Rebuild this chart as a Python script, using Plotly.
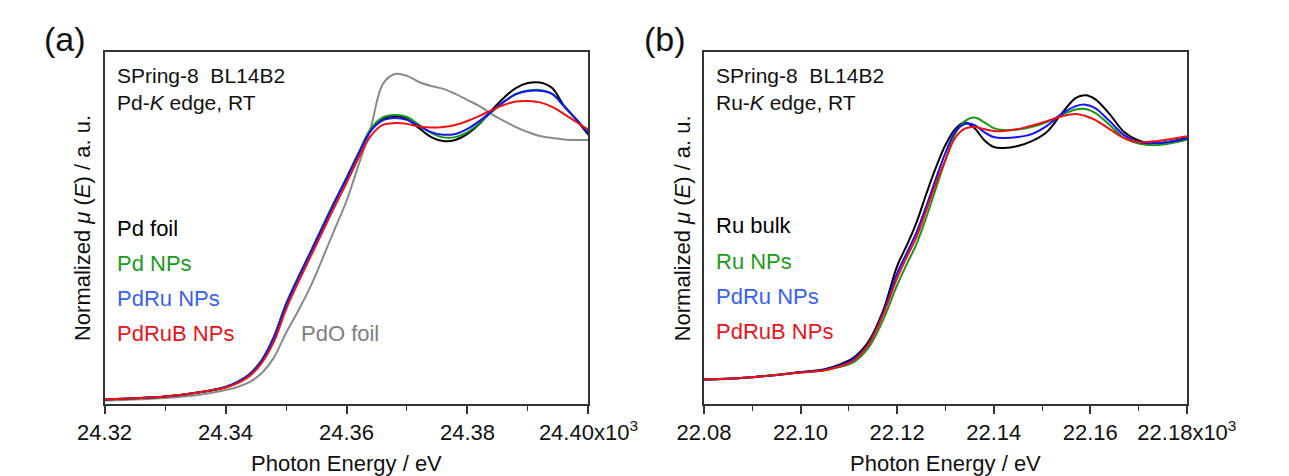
import plotly.graph_objects as go

# ---------------- data: panel (a) Pd-K edge ----------------
energy_a = [24.320, 24.330, 24.336, 24.340, 24.342, 24.344, 24.346, 24.348, 24.350, 24.352,
            24.354, 24.356, 24.358, 24.360, 24.362, 24.364, 24.366, 24.368, 24.370, 24.372,
            24.374, 24.376, 24.378, 24.380, 24.382, 24.384, 24.386, 24.388, 24.390, 24.392,
            24.394, 24.396, 24.398, 24.400]

pd_foil = [0.002, 0.013, 0.030, 0.049, 0.068, 0.098, 0.151, 0.238, 0.362, 0.462,
           0.556, 0.652, 0.747, 0.838, 0.932, 1.019, 1.060, 1.072, 1.060, 1.026,
           0.992, 0.977, 0.981, 1.004, 1.042, 1.094, 1.140, 1.177, 1.196, 1.198,
           1.177, 1.109, 1.057, 1.000]

pd_nps = [0.002, 0.013, 0.030, 0.049, 0.068, 0.098, 0.151, 0.238, 0.362, 0.462,
          0.556, 0.652, 0.747, 0.838, 0.932, 1.023, 1.066, 1.075, 1.068, 1.038,
          1.008, 0.991, 0.992, 1.011, 1.045, 1.087, 1.125, 1.155, 1.168, 1.170,
          1.155, 1.106, 1.057, 1.008]

pdru_nps_a = [0.002, 0.013, 0.030, 0.049, 0.067, 0.097, 0.149, 0.236, 0.359, 0.459,
              0.553, 0.649, 0.744, 0.835, 0.928, 1.015, 1.055, 1.064, 1.057, 1.034,
              1.011, 1.001, 1.004, 1.023, 1.053, 1.089, 1.125, 1.153, 1.166, 1.167,
              1.155, 1.109, 1.060, 1.008]

pdrub_nps_a = [0.002, 0.013, 0.030, 0.047, 0.064, 0.091, 0.140, 0.220, 0.342, 0.443,
               0.538, 0.633, 0.728, 0.819, 0.913, 0.996, 1.038, 1.045, 1.042, 1.032,
               1.028, 1.030, 1.038, 1.053, 1.072, 1.094, 1.113, 1.126, 1.128, 1.123,
               1.106, 1.079, 1.049, 1.020]

pdo_foil = [-0.002, 0.008, 0.021, 0.038, 0.049, 0.068, 0.102, 0.160, 0.253, 0.336,
            0.426, 0.532, 0.642, 0.751, 0.887, 1.026, 1.192, 1.230, 1.223, 1.200,
            1.185, 1.174, 1.155, 1.132, 1.109, 1.079, 1.053, 1.030, 1.011, 0.996,
            0.989, 0.983, 0.981, 0.981]

# ---------------- data: panel (b) Ru-K edge ----------------
energy_b = [22.080, 22.090, 22.100, 22.105, 22.108, 22.111, 22.114, 22.117, 22.120, 22.122,
            22.124, 22.126, 22.128, 22.130, 22.132, 22.134, 22.136, 22.138, 22.140, 22.142,
            22.145, 22.148, 22.151, 22.154, 22.157, 22.159, 22.161, 22.164, 22.167, 22.170,
            22.174, 22.180]

ru_bulk = [-0.001, 0.010, 0.031, 0.043, 0.062, 0.091, 0.155, 0.280, 0.470, 0.556,
           0.650, 0.766, 0.876, 0.971, 1.037, 1.064, 1.041, 0.992, 0.963, 0.959,
           0.967, 0.988, 1.025, 1.099, 1.166, 1.177, 1.161, 1.099, 1.025, 0.990,
           0.979, 1.000]

ru_nps = [0.000, 0.010, 0.029, 0.039, 0.052, 0.072, 0.130, 0.242, 0.391, 0.478,
          0.561, 0.669, 0.789, 0.909, 1.017, 1.070, 1.085, 1.066, 1.041, 1.033,
          1.035, 1.046, 1.066, 1.095, 1.118, 1.120, 1.104, 1.054, 1.000, 0.977,
          0.971, 0.993]

pdru_nps_b = [0.000, 0.010, 0.030, 0.041, 0.058, 0.085, 0.147, 0.272, 0.440, 0.524,
              0.609, 0.716, 0.830, 0.938, 1.025, 1.058, 1.054, 1.025, 1.004, 1.000,
              1.004, 1.017, 1.050, 1.099, 1.132, 1.138, 1.124, 1.070, 1.012, 0.983,
              0.979, 0.997]

pdrub_nps_b = [0.000, 0.010, 0.029, 0.039, 0.054, 0.079, 0.143, 0.263, 0.420, 0.507,
               0.590, 0.698, 0.810, 0.909, 1.000, 1.039, 1.046, 1.037, 1.029, 1.029,
               1.037, 1.052, 1.070, 1.089, 1.099, 1.091, 1.075, 1.037, 1.000, 0.983,
               0.988, 1.007]

ticks_a = [24.32, 24.34, 24.36, 24.38, 24.40]
ticklabels_a = ["24.32", "24.34", "24.36", "24.38", "24.40x10<sup>3</sup>"]
ticks_b = [22.08, 22.10, 22.12, 22.14, 22.16, 22.18]
ticklabels_b = ["22.08", "22.10", "22.12", "22.14", "22.16", "22.18x10<sup>3</sup>"]

labels_a = ["Pd foil", "Pd NPs", "PdRu NPs", "PdRuB NPs"]
labels_b = ["Ru bulk", "Ru NPs", "PdRu NPs", "PdRuB NPs"]

# ---------------- styling ----------------
W, H = 1289, 476
FONT = "Liberation Sans, Arial, sans-serif"
C_BLACK = "#000000"
C_GREEN = "#1a961a"
C_BLUE = "#1414f0"
C_RED = "#ee1111"
C_GRAY = "#8a8a8a"
TXT_GREEN = "#1e9a1e"
TXT_BLUE = "#3a60f2"
TXT_RED = "#e8141c"


def px(x):
    return x / W


def py(y):
    return 1 - y / H


fig = go.Figure()

series_a = [("PdO foil", energy_a, pdo_foil, C_GRAY),
            ("Pd foil", energy_a, pd_foil, C_BLACK),
            ("Pd NPs", energy_a, pd_nps, C_GREEN),
            ("PdRu NPs", energy_a, pdru_nps_a, C_BLUE),
            ("PdRuB NPs", energy_a, pdrub_nps_a, C_RED)]
for name, xs, ys, col in series_a:
    fig.add_trace(go.Scatter(x=xs, y=ys, mode="lines", name=name,
                             line=dict(color=col, width=2, shape="spline", smoothing=1.0),
                             xaxis="x", yaxis="y", showlegend=False))

series_b = [("Ru bulk", energy_b, ru_bulk, C_BLACK),
            ("Ru NPs", energy_b, ru_nps, C_GREEN),
            ("PdRu NPs", energy_b, pdru_nps_b, C_BLUE),
            ("PdRuB NPs", energy_b, pdrub_nps_b, C_RED)]
for name, xs, ys, col in series_b:
    fig.add_trace(go.Scatter(x=xs, y=ys, mode="lines", name=name,
                             line=dict(color=col, width=2, shape="spline", smoothing=1.0),
                             xaxis="x2", yaxis="y2", showlegend=False))

ydom = [py(396), py(44)]
axis_common = dict(showline=True, mirror=True, linecolor="#333333", linewidth=1.5,
                   showgrid=False, zeroline=False)

fig.update_layout(
    width=W, height=H,
    margin=dict(l=0, r=0, t=0, b=0),
    paper_bgcolor="white", plot_bgcolor="white",
    font=dict(family=FONT, size=22, color="#111111"),
    xaxis=dict(domain=[px(73), px(588)], range=[24.32, 24.40], anchor="y",
               tickmode="array", tickvals=ticks_a, ticktext=ticklabels_a,
               ticks="outside", ticklen=8, tickwidth=1.5, tickcolor="#333333",
               minor=dict(dtick=0.01, ticks="outside", ticklen=5, tickwidth=1.2, tickcolor="#333333"),
               tickfont=dict(size=22, color="#111111"), **axis_common),
    yaxis=dict(domain=ydom, range=[-0.0151, 1.3132], anchor="x",
               showticklabels=False, ticks="", **axis_common),
    xaxis2=dict(domain=[px(711), px(1225)], range=[22.08, 22.18], anchor="y2",
                tickmode="array", tickvals=ticks_b, ticktext=ticklabels_b,
                ticks="outside", ticklen=8, tickwidth=1.5, tickcolor="#333333",
                minor=dict(dtick=0.01, ticks="outside", ticklen=5, tickwidth=1.2, tickcolor="#333333"),
                tickfont=dict(size=22, color="#111111"), **axis_common),
    yaxis2=dict(domain=ydom, range=[-0.101, 1.356], anchor="x2",
                showticklabels=False, ticks="", **axis_common),
)

ann = []


def text(x, y, s, color="#111111", size=22, xanchor="left", angle=0):
    ann.append(dict(x=px(x), y=py(y), xref="paper", yref="paper", text=s, showarrow=False,
                    xanchor=xanchor, yanchor="middle", textangle=angle,
                    font=dict(family=FONT, size=size, color=color)))


# panel labels
text(6, 31, "(a)", size=34)
text(645, 31, "(b)", size=34)

# header texts
text(84, 68, "SPring-8&nbsp;&nbsp;BL14B2", size=21)
text(84, 95, "Pd-<i>K</i> edge, RT", size=21)
text(722, 68, "SPring-8&nbsp;&nbsp;BL14B2", size=21)
text(722, 95, "Ru-<i>K</i> edge, RT", size=21)

# in-plot legends
cols = [C_BLACK, TXT_GREEN, TXT_BLUE, TXT_RED]
for i, (la, c) in enumerate(zip(labels_a, cols)):
    text(84, 220 + 35 * i, la, color=c)
for i, (lb, c) in enumerate(zip(labels_b, cols)):
    text(722, 218 + 35 * i, lb, color=c)
text(280, 325, "PdO foil", color="#7f7f7f")

# axis titles
ytitle = "Normalized <i>μ</i> (<i>E</i>) / a. u."
text(49, 220, ytitle, xanchor="center", angle=-90)
text(688, 220, ytitle, xanchor="center", angle=-90)
text(330.5, 455, "Photon Energy / eV", xanchor="center")
text(968, 455, "Photon Energy / eV", xanchor="center")

fig.update_layout(annotations=ann)
fig.write_html("out.html")
